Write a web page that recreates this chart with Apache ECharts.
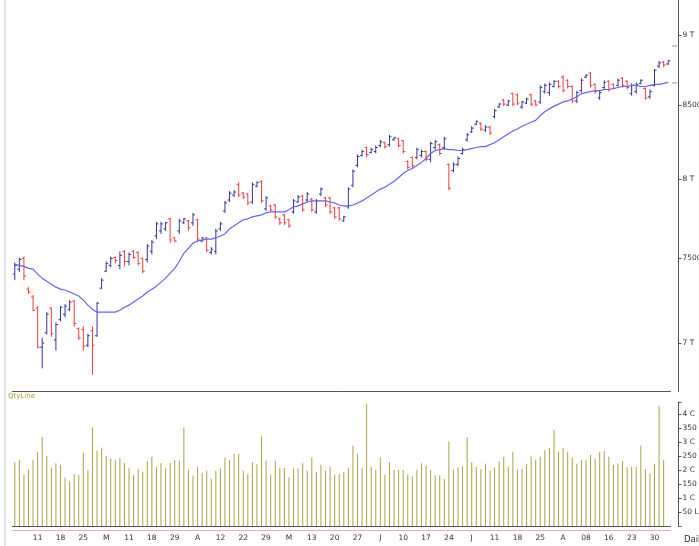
<!DOCTYPE html>
<html>
<head>
<meta charset="utf-8">
<script src="https://cdn.jsdelivr.net/npm/echarts@6/dist/echarts.min.js"></script>
<style>
  html, body { margin: 0; padding: 0; background: #fff; }
  #chart { width: 699px; height: 546px; }
</style>
</head>
<body>
<div id="chart"></div>
<script>
// week labels shown under every 5th bar
const weekLabels = ['11','18','25','M','11','18','29','A','12','22','29','M','13','20','27','J','10','17','24','J','11','18','25','A','08','16','23','30'];

const open = [
  7405,7435,7500,7315,7268,7202,6976,7060,7202,7018,
  7137,7167,7196,7244,7083,7077,6988,7071,7042,7321,
  7423,7458,7506,7458,7544,7482,7544,7538,7500,7494,
  7544,7639,7671,7684,7747,7627,7671,7722,7734,7722,
  7741,7608,7627,7538,7544,7684,7797,7867,7899,7968,
  7911,7905,7854,7956,7987,7810,7829,7835,7747,7772,
  7741,7791,7854,7892,7867,7873,7791,7905,7880,7880,
  7816,7816,7734,7823,7962,8092,8158,8211,8178,8184,
  8224,8243,8230,8263,8270,8257,8118,8145,8145,8158,
  8184,8132,8211,8230,8211,8099,8059,8099,8171,8263,
  8316,8368,8375,8329,8349,8421,8487,8536,8500,8580,
  8572,8487,8514,8572,8529,8522,8594,8587,8630,8667,
  8696,8674,8630,8529,8601,8696,8725,8645,8551,8623,
  8667,8645,8638,8688,8667,8580,8594,8652,8616,8558,
  8638,8775,8804,8790
];
const high = [
  7476,7506,7513,7327,7280,7214,7030,7179,7208,7119,
  7214,7226,7250,7250,7089,7095,7054,7095,7238,7381,
  7482,7513,7513,7544,7551,7538,7551,7544,7506,7589,
  7614,7728,7728,7728,7753,7633,7747,7753,7741,7785,
  7747,7633,7633,7570,7684,7728,7861,7924,7930,7981,
  7918,7911,7981,7987,7994,7892,7835,7842,7753,7778,
  7747,7873,7899,7899,7918,7880,7873,7949,7886,7886,
  7823,7823,7766,7949,8066,8164,8197,8217,8211,8224,
  8263,8250,8296,8283,8276,8263,8125,8151,8211,8197,
  8191,8250,8263,8237,8283,8105,8112,8151,8211,8309,
  8355,8395,8382,8362,8355,8474,8514,8543,8536,8587,
  8580,8529,8551,8580,8536,8638,8652,8659,8674,8674,
  8710,8681,8638,8601,8688,8717,8732,8652,8601,8674,
  8674,8652,8688,8696,8674,8652,8659,8681,8623,8609,
  8754,8812,8812,8819
];
const low = [
  7369,7417,7369,7286,7185,6970,6857,7048,7036,6958,
  7125,7149,7185,7095,7018,6958,6976,6821,7036,7315,
  7417,7446,7470,7435,7452,7458,7500,7458,7411,7476,
  7525,7620,7652,7671,7595,7601,7652,7715,7671,7703,
  7601,7601,7538,7525,7525,7671,7785,7854,7886,7886,
  7873,7835,7842,7949,7848,7797,7791,7747,7709,7709,
  7690,7778,7848,7791,7854,7791,7778,7892,7823,7778,
  7747,7734,7728,7810,7949,8079,8151,8145,8171,8171,
  8211,8204,8217,8257,8211,8171,8066,8072,8132,8145,
  8118,8112,8197,8158,8197,7930,8046,8086,8164,8250,
  8309,8362,8322,8316,8296,8408,8480,8493,8493,8493,
  8500,8474,8507,8493,8493,8507,8580,8565,8623,8616,
  8587,8616,8514,8514,8587,8688,8623,8580,8536,8609,
  8594,8609,8630,8623,8609,8565,8580,8645,8536,8543,
  8630,8761,8768,8783
];
const close = [
  7458,7494,7393,7298,7190,6976,7000,7167,7054,7107,
  7208,7214,7238,7113,7030,6982,7042,6988,7232,7369,
  7470,7500,7488,7519,7482,7525,7506,7470,7423,7576,
  7601,7715,7715,7722,7614,7608,7734,7747,7690,7772,
  7620,7627,7551,7557,7671,7715,7848,7911,7918,7899,
  7886,7848,7968,7981,7861,7880,7804,7759,7722,7722,
  7703,7861,7886,7804,7905,7804,7861,7937,7835,7791,
  7759,7747,7759,7937,8053,8151,8184,8164,8197,8211,
  8250,8217,8283,8276,8224,8184,8079,8092,8197,8184,
  8132,8237,8250,8171,8270,7943,8099,8138,8197,8296,
  8342,8388,8336,8349,8309,8461,8507,8507,8529,8507,
  8514,8522,8543,8507,8500,8623,8638,8645,8667,8630,
  8601,8630,8529,8587,8674,8710,8638,8594,8587,8659,
  8609,8616,8674,8638,8623,8638,8645,8674,8551,8594,
  8746,8797,8783,8812
];
// moving average line
const ma = [
  7464,7458,7452,7440,7435,7405,7381,7363,7345,7327,
  7315,7310,7298,7286,7274,7250,7220,7196,7179,7179,
  7179,7179,7179,7190,7208,7220,7238,7256,7274,7298,
  7315,7333,7357,7381,7411,7440,7482,7532,7563,7595,
  7608,7614,7620,7620,7627,7639,7652,7684,7703,7722,
  7741,7747,7759,7766,7772,7785,7791,7791,7791,7791,
  7804,7823,7829,7842,7854,7861,7861,7861,7861,7854,
  7848,7835,7829,7829,7835,7848,7861,7880,7899,7918,
  7937,7949,7968,7987,8013,8039,8059,8072,8092,8112,
  8138,8171,8191,8197,8204,8197,8197,8191,8191,8197,
  8204,8211,8217,8217,8230,8243,8263,8283,8303,8322,
  8336,8355,8368,8382,8395,8428,8454,8474,8493,8507,
  8522,8529,8543,8558,8580,8587,8594,8601,8601,8609,
  8609,8616,8623,8630,8630,8638,8638,8630,8630,8638,
  8645,8645,8652,8659
];
const volume = [
  227,237,183,201,237,264,318,251,208,224,
  219,172,158,186,183,262,199,352,269,280,
  249,240,237,243,225,207,181,204,193,231,
  247,212,225,205,225,236,233,352,201,180,
  213,190,197,169,197,205,245,236,258,258,
  197,186,228,221,320,233,183,233,207,207,
  174,205,205,224,197,245,193,219,197,212,
  183,186,193,207,287,258,207,436,212,200,
  245,183,228,200,201,200,183,177,201,224,
  215,201,181,181,168,302,201,209,213,318,
  228,211,204,222,197,208,230,247,212,264,
  201,204,222,249,237,247,271,279,344,266,
  279,265,244,222,236,235,254,240,264,268,
  247,218,222,232,209,212,212,288,204,188,
  222,429,236
];

const priceTicks = [7000, 7500, 8000, 8500, 9000];
const priceTickLabels = ['7 T', '7500', '8 T', '8500', '9 T'];
const volTicks = [50, 100, 150, 200, 250, 300, 350, 400];
const volTickLabels = ['50 L', '1 C', '150', '2 C', '250', '3 C', '350', '4 C'];
const markerValues = [8920, 8655];
const markerColors = ['#d9a3d9', '#e8a4a4'];
const priceMin = 6729, priceMax = 9261;
const volMax = 443;

const upColor = '#34349c';
const downColor = '#ef3b3b';
const font = 'DejaVu Sans';
const ln = Math.log;

const categories = close.map((_, i) => String(i));
const isLabel = i => i > 0 && i % 5 === 0;
const labelAt = i => isLabel(i) ? weekLabels[i / 5 - 1] : '';
const ohlc = close.map((c, i) => [i, ln(open[i]), ln(high[i]), ln(low[i]), ln(c)]);

function renderBar(params, api) {
  const i = api.value(0);
  const h = api.coord([i, api.value(2)]);
  const l = api.coord([i, api.value(3)]);
  const o = api.coord([i, api.value(1)]);
  const c = api.coord([i, api.value(4)]);
  const color = api.value(4) >= api.value(1) ? upColor : downColor;
  const x = h[0];
  const style = { stroke: color, lineWidth: 1 };
  return {
    type: 'group',
    children: [
      { type: 'line', shape: { x1: x, y1: h[1], x2: x, y2: l[1] }, style },
      { type: 'line', shape: { x1: x - 2, y1: o[1], x2: x, y2: o[1] }, style },
      { type: 'line', shape: { x1: x, y1: c[1], x2: x + 2, y2: c[1] }, style }
    ]
  };
}

const chart = echarts.init(document.getElementById('chart'));
chart.setOption({
  animation: false,
  textStyle: { fontFamily: font },
  grid: [
    { left: 12.5, right: 28.5, top: 0, height: 391.5, outerBoundsMode: 'none' },
    { left: 12.5, right: 28.5, top: 402, bottom: 20, outerBoundsMode: 'none' }
  ],
  xAxis: [
    { type: 'category', gridIndex: 0, data: categories,
      axisLine: { lineStyle: { color: '#555' } }, axisTick: { show: false }, axisLabel: { show: false } },
    { type: 'category', gridIndex: 1, data: categories,
      axisLine: { lineStyle: { color: '#555' } }, axisTick: { show: false }, axisLabel: { show: false } },
    { type: 'category', gridIndex: 1, data: categories, position: 'bottom', offset: 4,
      axisLine: { lineStyle: { color: '#f7a9a9' } },
      axisTick: { alignWithLabel: true, length: 3, interval: i => isLabel(i), lineStyle: { color: '#555' } },
      axisLabel: { interval: i => isLabel(i), formatter: (v, i) => labelAt(i),
        fontSize: 7.5, color: '#333', margin: 4, fontFamily: font } }
  ],
  yAxis: [
    { type: 'value', gridIndex: 0, position: 'right', offset: 8,
      min: ln(priceMin), max: ln(priceMax), splitLine: { show: false },
      axisLine: { show: true, lineStyle: { color: '#555' } },
      axisTick: { show: true, length: 3, customValues: priceTicks.map(ln), lineStyle: { color: '#555' } },
      axisLabel: { customValues: priceTicks.map(ln), fontSize: 7.5, color: '#333', margin: 4, fontFamily: font,
        formatter: v => priceTickLabels[priceTicks.findIndex(p => Math.abs(ln(p) - v) < 1e-6)] || '' } },
    { type: 'value', gridIndex: 1, position: 'right', offset: 8,
      min: 0, max: volMax, interval: 50, splitLine: { show: false },
      axisLine: { show: true, lineStyle: { color: '#555' } },
      axisTick: { show: true, length: 3, lineStyle: { color: '#555' } },
      axisLabel: { fontSize: 7.5, color: '#333', margin: 4, fontFamily: font,
        formatter: v => { const k = volTicks.indexOf(v); return k < 0 ? '' : volTickLabels[k]; } } }
  ],
  series: [
    { type: 'custom', name: 'price', xAxisIndex: 0, yAxisIndex: 0, data: ohlc,
      encode: { x: 0, y: [1, 2, 3, 4] }, renderItem: renderBar },
    { type: 'line', name: 'ma', xAxisIndex: 0, yAxisIndex: 0, data: ma.map(ln),
      symbol: 'none', lineStyle: { color: '#6464f2', width: 1.2 } },
    { type: 'bar', name: 'QtyLine', xAxisIndex: 1, yAxisIndex: 1, data: volume,
      barWidth: 1, itemStyle: { color: '#a8a246' } }
  ]
});

// markers on the price axis and the fixed decorations
const markers = markerValues.map((v, k) => {
  const y = chart.convertToPixel({ yAxisIndex: 0 }, ln(v));
  return { type: 'rect', shape: { x: 672, y: y - 0.75, width: 5, height: 1.5 }, style: { fill: markerColors[k] } };
});
chart.setOption({
  graphic: [
    { type: 'line', shape: { x1: 5, y1: 0, x2: 5, y2: 546 }, style: { stroke: '#e2e2e2', lineWidth: 2 } },
    { type: 'text', left: 8, top: 393, style: { text: 'QtyLine', fill: '#a39c2e', font: '7px "DejaVu Sans"' } },
    { type: 'text', left: 684, top: 535, style: { text: 'Daily', fill: '#333', font: '8.5px "DejaVu Sans"' } },
    ...markers
  ]
});
</script>
</body>
</html>
